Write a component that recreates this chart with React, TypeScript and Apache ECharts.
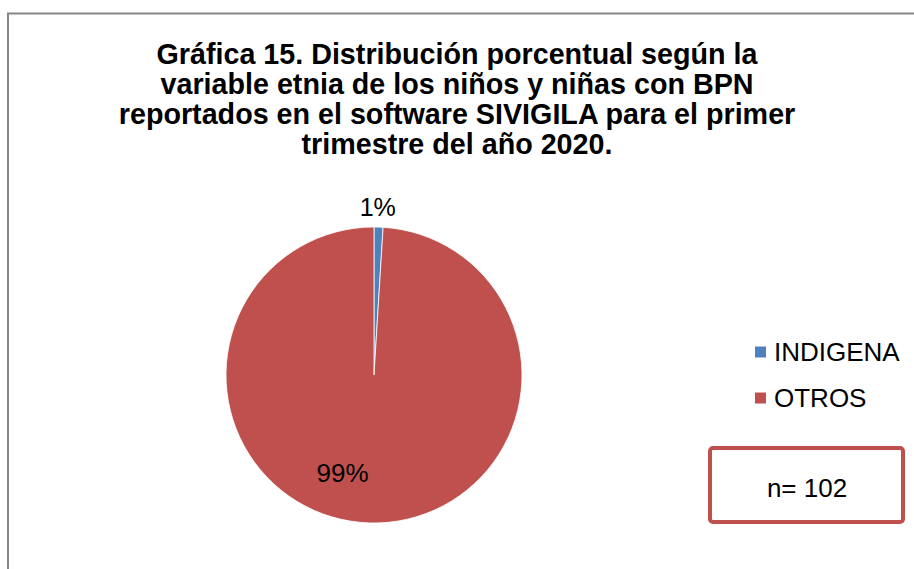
import React, { useEffect, useRef } from "react";
import * as echarts from "echarts";

const categories = ["INDIGENA", "OTROS"];
const counts = [1, 101];
const totalLabel = "n= 102";
const titleLines = [
  "Gráfica 15. Distribución porcentual según la",
  "variable etnia de los niños y niñas con BPN",
  "reportados en el software SIVIGILA para el primer",
  "trimestre del año 2020.",
];
const colors = ["#4F81BD", "#C0504D"];

const FONT = "Arial, 'Liberation Sans', sans-serif";

export default function App() {
  const ref = useRef<HTMLDivElement>(null);
  useEffect(() => {
    if (!ref.current) return;
    const chart = echarts.init(ref.current, null, { renderer: "svg" });
    const total = counts.reduce((a, b) => a + b, 0);
    chart.setOption({
      animation: false,
      backgroundColor: "#ffffff",
      color: colors,
      title: {
        text: titleLines.join("\n"),
        left: "center",
        top: 39,
        padding: 0,
        textStyle: {
          fontFamily: FONT,
          fontSize: 28.7,
          fontWeight: "bold",
          color: "#000000",
          lineHeight: 30,
        },
      },
      legend: {
        orient: "vertical",
        left: 753,
        top: 338,
        padding: 0,
        icon: "rect",
        itemWidth: 13,
        itemHeight: 13,
        itemGap: 18,
        textStyle: {
          fontFamily: FONT,
          fontSize: 26,
          color: "#000000",
          lineHeight: 28,
          padding: [0, 0, 0, 2],
        },
        data: categories,
      },
      graphic: [
        {
          type: "rect",
          shape: { x: 8, y: 13.5, width: 1200, height: 1200 },
          style: { fill: "none", stroke: "#868686", lineWidth: 2 },
          silent: true,
        },
        {
          type: "rect",
          shape: { x: 710, y: 448, width: 193, height: 74, r: 3 },
          style: { fill: "#ffffff", stroke: "#C0504D", lineWidth: 4 },
          silent: true,
        },
        {
          type: "text",
          x: 807,
          y: 488,
          style: {
            text: totalLabel,
            fontFamily: FONT,
            fontSize: 26,
            fill: "#000000",
            align: "center",
            verticalAlign: "middle",
          },
          silent: true,
        },
      ],
      series: [
        {
          type: "pie",
          center: [374, 375],
          radius: 148,
          startAngle: 90,
          clockwise: true,
          itemStyle: { borderColor: "#ffffff", borderWidth: 0.8 },
          emphasis: { disabled: true },
          label: {
            fontFamily: FONT,
            fontSize: 25,
            color: "#000000",
            formatter: (p: any) => Math.round((p.value / total) * 100) + "%",
          },
          labelLine: { show: false },
          labelLayout: (p: any) => {
            if (p.dataIndex === 0) {
              return { dx: -6, dy: -14, align: "center", verticalAlign: "middle" };
            }
            return { dx: -29, dy: 21, align: "center", verticalAlign: "middle" };
          },
          data: categories.map((c, i) => ({
            name: c,
            value: counts[i],
            label:
              i === 0
                ? { position: "outside" }
                : { position: "inside", fontSize: 26 },
            labelLine: { show: false, length: 6, length2: 0 },
          })),
        },
      ],
    });
    return () => chart.dispose();
  }, []);
  return (
    <div
      ref={ref}
      style={{ position: "fixed", left: 0, top: 0, width: 914, height: 569 }}
    />
  );
}
